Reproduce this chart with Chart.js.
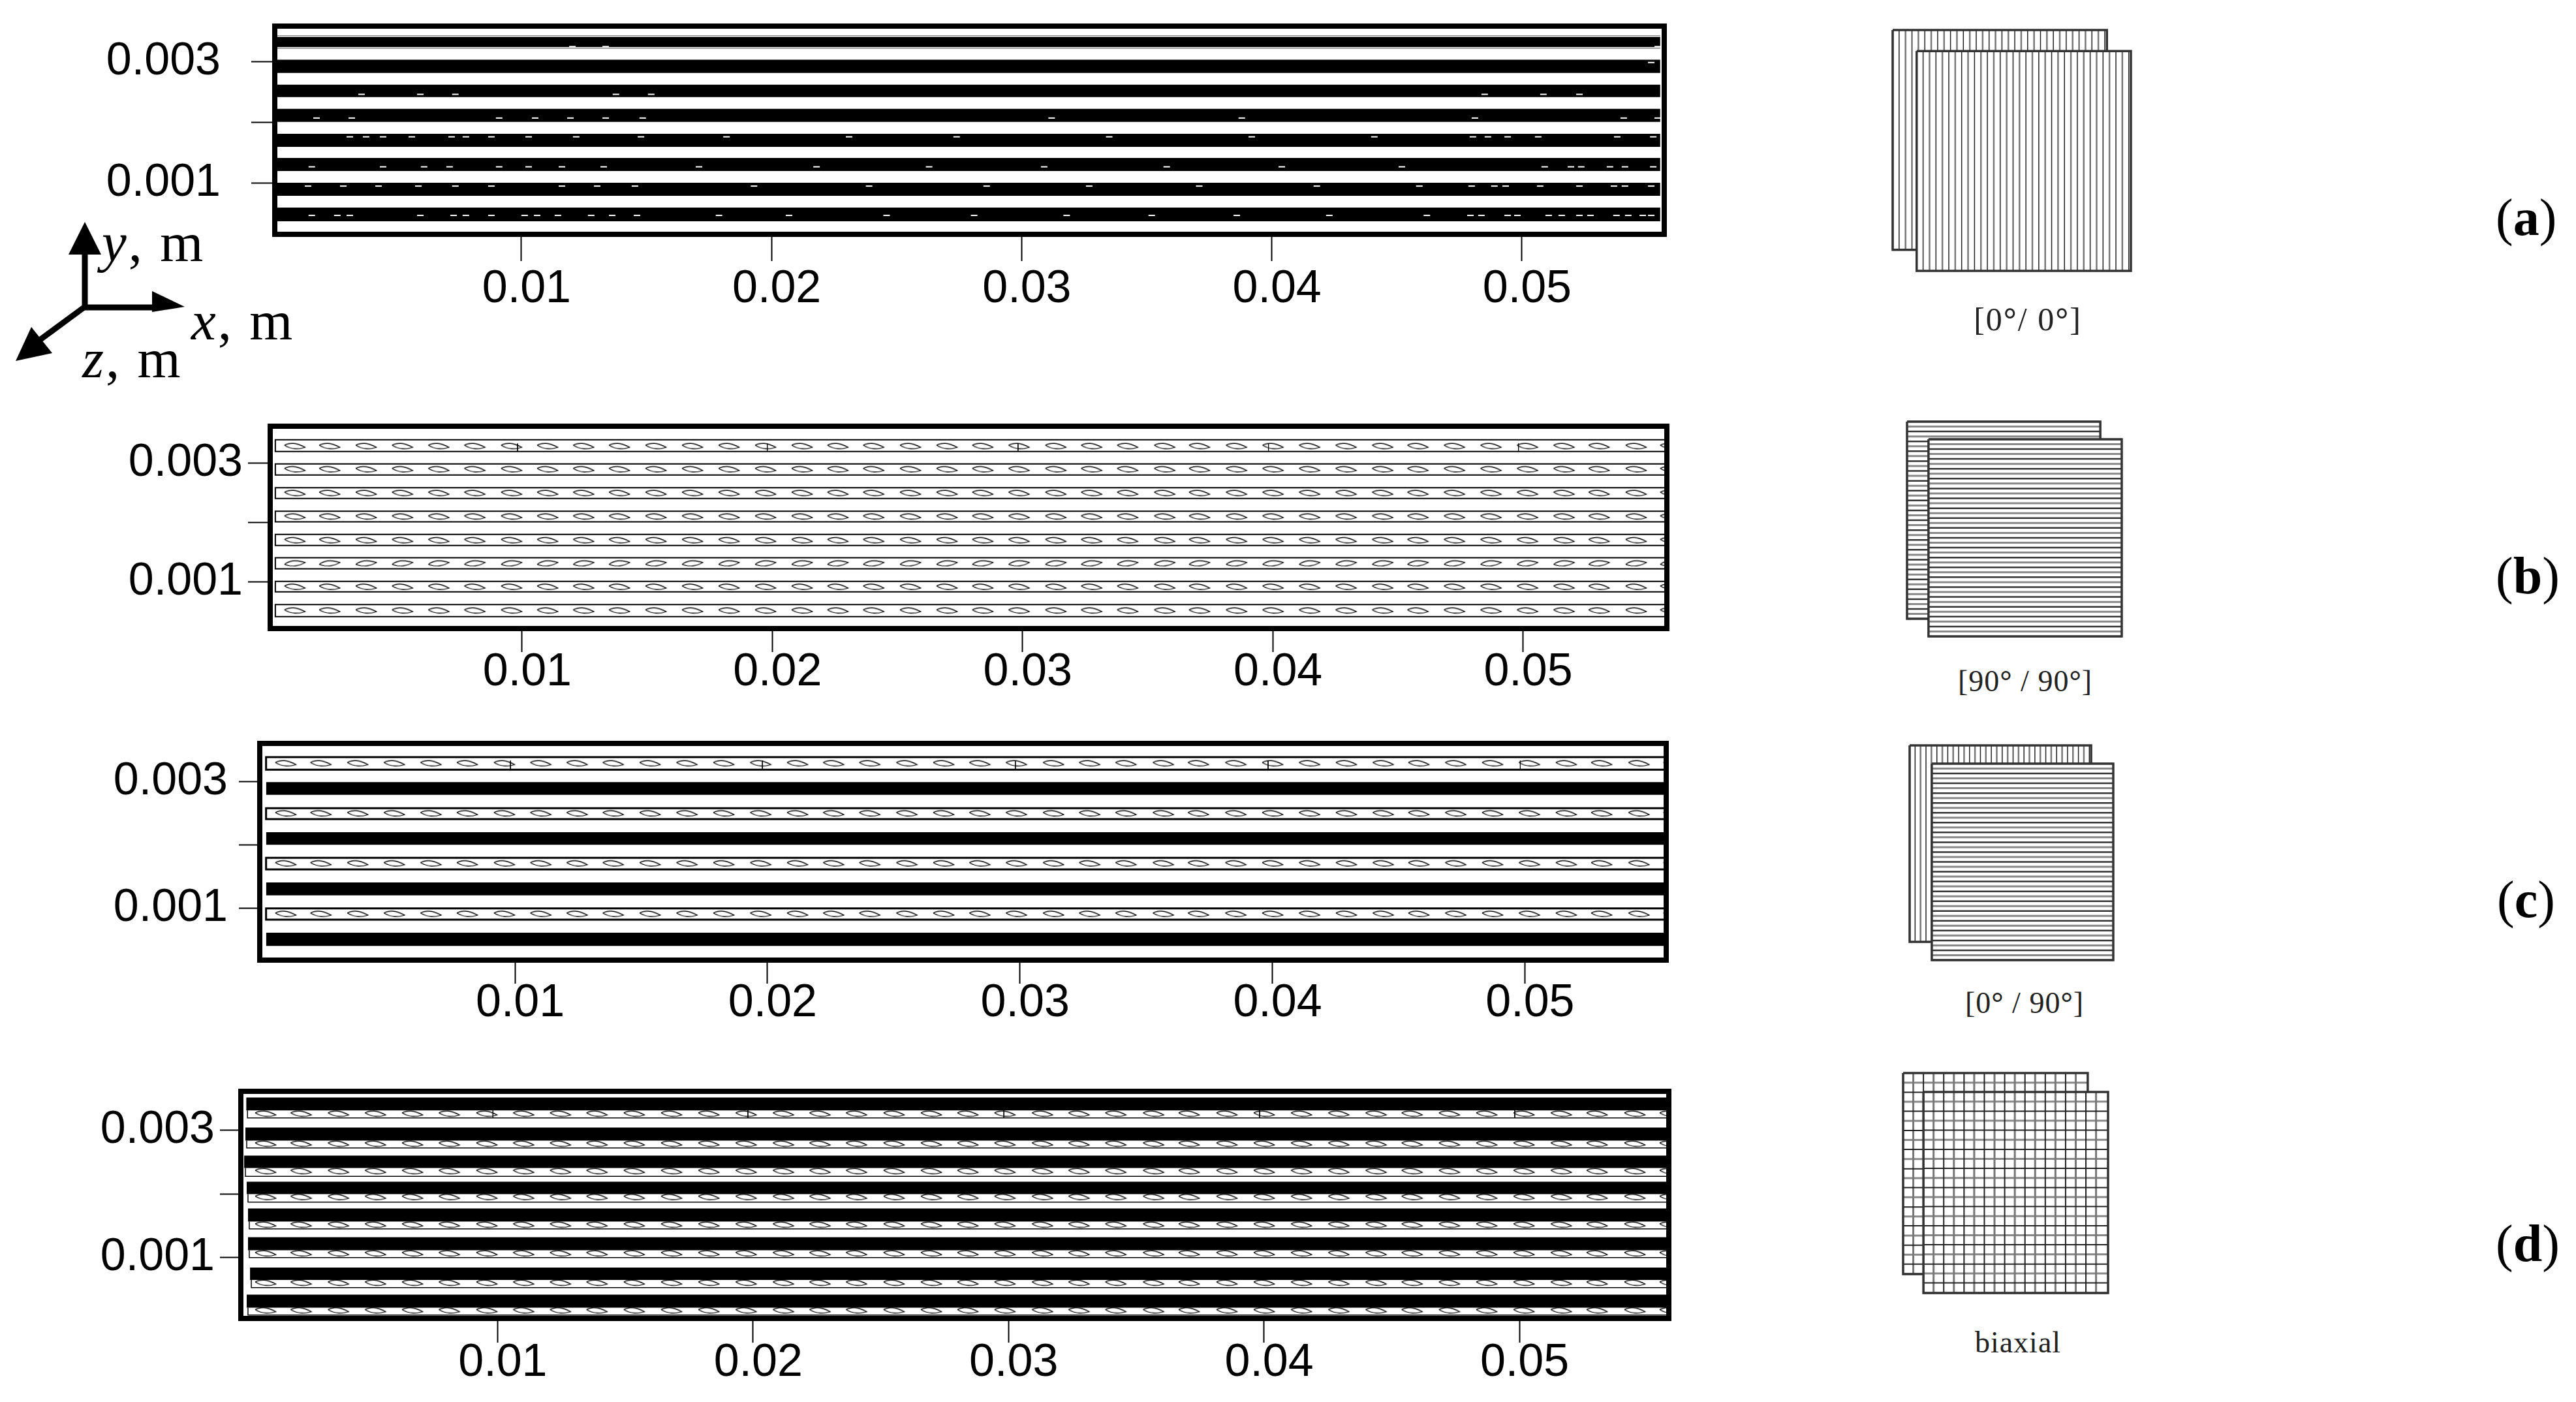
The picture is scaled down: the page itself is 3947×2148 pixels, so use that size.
<!DOCTYPE html>
<html>
<head>
<meta charset="utf-8">
<script src="https://cdn.jsdelivr.net/npm/chart.js@4/dist/chart.umd.min.js"></script>
<style>
html, body { margin: 0; padding: 0; background: #fff; }
body { position: relative; width: 3947px; height: 2148px; overflow: hidden; }
canvas { position: absolute; }
.t { position: absolute; font-family: "Liberation Serif", serif; line-height: 1; white-space: pre; color: #000; }
.axisname { font-size: 85px; letter-spacing: 3px; }
.letter { font-size: 80px; }
.sub { font-size: 50px; color: #222; transform: translateX(-50%); letter-spacing: 2px; }
.sub.small { font-size: 46px; letter-spacing: 1px; }
</style>
</head>
<body>

<svg style="position:absolute;left:0;top:0" width="320" height="600">
  <line x1="130" y1="472" x2="130" y2="385" stroke="#000" stroke-width="9"/>
  <polygon points="130,340 105,390 155,390" fill="#000"/>
  <line x1="126" y1="471" x2="238" y2="471" stroke="#000" stroke-width="9"/>
  <polygon points="283,470 233,446 233,478" fill="#000"/>
  <line x1="130" y1="470" x2="58" y2="523" stroke="#000" stroke-width="9"/>
  <polygon points="24,553 48,501 80,541" fill="#000"/>
</svg>

<div class="t axisname" style="left:156px;top:329px"><i>y</i>, m</div>
<div class="t axisname" style="left:293px;top:449px"><i>x</i>, m</div>
<div class="t axisname" style="left:126px;top:507px"><i>z</i>, m</div>

<div class="t letter" style="left:3824px;top:293px">(<b>a</b>)</div>
<div class="t letter" style="left:3824px;top:842px">(<b>b</b>)</div>
<div class="t letter" style="left:3826px;top:1338px">(<b>c</b>)</div>
<div class="t letter" style="left:3824px;top:1865px">(<b>d</b>)</div>

<div class="t sub" style="left:3107px;top:464px">[0<b>°</b>/ 0<b>°</b>]</div>
<div class="t sub small" style="left:3103px;top:1021px">[90<b>°</b> / 90<b>°</b>]</div>
<div class="t sub small" style="left:3102px;top:1514px">[0<b>°</b> / 90<b>°</b>]</div>
<div class="t sub small" style="left:3092px;top:2034px">biaxial</div>

<script>
// ticks, same on every panel
const xTicks = [0.01, 0.02, 0.03, 0.04, 0.05];
const yTicks = [0.001, 0.002, 0.003];
const yLabelled = [0.001, 0.003];

// tow lens positions along x (the others line up with it)
const lensX = [0.00092, 0.00231, 0.00377, 0.00522, 0.00667, 0.00811, 0.00958, 0.01102, 0.01246, 0.01389,
  0.01535, 0.01681, 0.01827, 0.01973, 0.02119, 0.02262, 0.02405, 0.02552, 0.02698, 0.02841,
  0.02986, 0.03133, 0.03276, 0.03420, 0.03568, 0.03707, 0.03855, 0.04001, 0.04147, 0.04293,
  0.04439, 0.04580, 0.04726, 0.04872, 0.05018, 0.05164, 0.05304, 0.05452, 0.05590];
// little vertical marks in the first strip
const innerTickX = [0.00982, 0.01980, 0.02982, 0.03983, 0.04982];

// panel a, solid bands
const aBandTop = [0.003434, 0.003035, 0.002623, 0.002224, 0.001814, 0.001415, 0.001005, 0.000596];
const aBandBottom = [0.003220, 0.002817, 0.002418, 0.002008, 0.001598, 0.001199, 0.000790, 0.000369];
const aBandStart = 0.00022;
const aBandEnd = 0.05553;
const aOutlineY = [0.003420, 0.003237];
// white flecks inside the bands of panel a
const aFleckY = [0.003252, 0.002989, 0.002464, 0.002073, 0.001763, 0.001268, 0.000950, 0.000466];
const aFleckX = [
  [0.01204, 0.01337, 0.05543],
  [0.05517],
  [0.00361, 0.00596, 0.00736, 0.01378, 0.01519, 0.04851, 0.05086, 0.0523],
  [0.00181, 0.00322, 0.00911, 0.01055, 0.01196, 0.01337, 0.01485, 0.0312, 0.0388, 0.04812, 0.05407, 0.05543],
  [0.00314, 0.00379, 0.00447, 0.00562, 0.00721, 0.00778, 0.0088, 0.01029, 0.01219, 0.01478, 0.0182, 0.0231, 0.0274, 0.0335, 0.0392, 0.0441, 0.04804, 0.04864, 0.04943, 0.05065, 0.05381, 0.05525],
  [0.00162, 0.00447, 0.00611, 0.00713, 0.00911, 0.01029, 0.01162, 0.01329, 0.0171, 0.0218, 0.0263, 0.0309, 0.0358, 0.0404, 0.0452, 0.05091, 0.05196, 0.05237, 0.05352, 0.05412, 0.05525],
  [0.00147, 0.00288, 0.00429, 0.00588, 0.00736, 0.0088, 0.01162, 0.01303, 0.01454, 0.0193, 0.0239, 0.0286, 0.0327, 0.0371, 0.0418, 0.0459, 0.04799, 0.0489, 0.04935, 0.05073, 0.0523, 0.05368, 0.05412, 0.05517],
  [0.00162, 0.00264, 0.00314, 0.00596, 0.00729, 0.00778, 0.0088, 0.01013, 0.01063, 0.01146, 0.01279, 0.01363, 0.01462, 0.0179, 0.0207, 0.0246, 0.0281, 0.0318, 0.0352, 0.0386, 0.0423, 0.0462, 0.04794, 0.04838, 0.04943, 0.04982, 0.05107, 0.05159, 0.0523, 0.05274, 0.05378, 0.05425, 0.05483, 0.05517]
];

// panel b, outlined strips
const bStripTop = [0.003393, 0.002986, 0.002585, 0.002189, 0.001797, 0.001404, 0.001004, 0.000615];
const bStripBottom = [0.003195, 0.002799, 0.002402, 0.002009, 0.001610, 0.001217, 0.000828, 0.000410];
const bLensY = [0.003289, 0.002898, 0.002497, 0.002101, 0.001701, 0.001313, 0.000916, 0.000516];
const bTilt = [4, 4, 4, 3, 4, -7, 4, 3];
const bStart = 0.00014;

// panel c, strips and bands take turns
const cStripTop = [0.003384, 0.002578, 0.001796, 0.001000];
const cStripBottom = [0.003185, 0.002406, 0.001614, 0.000822];
const cLensY = [0.003288, 0.002499, 0.001710, 0.000915];
const cBandTop = [0.002990, 0.002201, 0.001408, 0.000616];
const cBandBottom = [0.002790, 0.002002, 0.001206, 0.000407];
const cStart = 0.00014;

// panel d, each band has its strip hanging under it
const dBandTop = [0.003516, 0.003044, 0.002603, 0.002193, 0.001772, 0.001321, 0.000843, 0.000418];
const dBandBottom = [0.003314, 0.002839, 0.002408, 0.001998, 0.001567, 0.001116, 0.000648, 0.000213];
const dStripBottom = [0.003195, 0.002723, 0.002278, 0.001872, 0.001451, 0.001000, 0.000528, 0.000097];
const dLensY = [0.003263, 0.002791, 0.002360, 0.001954, 0.001519, 0.001068, 0.000606, 0.000172];
const dStart = [0.00016, 0.00013, 0.00008, 0.00018, 0.00023, 0.00023, 0.00031, 0.00018];

// fibre positions on the little fabric sheets, percent of the sheet
const warpPos = [0, 3, 6, 9, 12, 15, 18, 21, 24, 27, 30, 33, 36, 39, 42, 45, 48, 51, 54, 57, 60, 63, 66, 69, 72, 75, 78, 81, 84, 87, 90, 93, 96, 99];
const weftPos = [0, 2.5, 5, 7.5, 10, 12.5, 15, 17.5, 20, 22.5, 25, 27.5, 30, 32.5, 35, 37.5, 40, 42.5, 45, 47.5, 50, 52.5, 55, 57.5, 60, 62.5, 65, 67.5, 70, 72.5, 75, 77.5, 80, 82.5, 85, 87.5, 90, 92.5, 95, 97.5, 100];
const gridXPos = [0, 5.5, 11, 16.5, 22, 27.5, 33, 38.5, 44, 49.5, 55, 60.5, 66, 71.5, 77, 82.5, 88, 93.5, 100];
const gridYPos = [0, 4.8, 9.6, 14.3, 19, 23.8, 28.6, 33.3, 38, 42.8, 47.6, 52.3, 57, 61.8, 66.6, 71.3, 76, 80.8, 85.6, 90.3, 95, 100];

function makeLens(w, h) {
  const c = document.createElement('canvas');
  c.width = w; c.height = h;
  const g = c.getContext('2d');
  const m = h / 2;
  g.strokeStyle = '#000';
  g.lineWidth = 1.3;
  g.beginPath();
  g.moveTo(1, m);
  g.quadraticCurveTo(w * 0.4, m - 8, w - 1, m + 1);
  g.quadraticCurveTo(w * 0.5, m + 8, 1, m);
  g.stroke();
  return c;
}
const lensImg = makeLens(34, 14);

function band(top, bottom, x0, x1) {
  return { data: [{ x: x0, y: top }, { x: x1, y: top }], showLine: true, pointRadius: 0, borderWidth: 0,
    borderColor: 'rgba(0,0,0,0)', backgroundColor: '#000', fill: { value: bottom }, clip: 0 };
}
function strip(top, bottom, x0, x1, w) {
  return { data: [{ x: x1, y: top }, { x: x0, y: top }, { x: x0, y: bottom }, { x: x1, y: bottom }],
    showLine: true, pointRadius: 0, borderWidth: w, borderColor: '#000', fill: false, clip: 0 };
}
function lensRow(y, tilt) {
  return { data: lensX.map(x => ({ x: x, y: y })), showLine: false, pointStyle: lensImg, pointRadius: 16,
    pointRotation: tilt, clip: 0 };
}
function innerMarks(y0, y1) {
  return innerTickX.map(x => ({ data: [{ x: x, y: y0 }, { x: x, y: y1 }], showLine: true, pointRadius: 0,
    borderWidth: 1, borderColor: '#000', clip: 0 }));
}

const frame = {
  id: 'frame',
  afterDatasetsDraw(chart) {
    const a = chart.chartArea, c = chart.ctx;
    c.save();
    c.lineWidth = 8;
    c.strokeStyle = '#000';
    c.strokeRect(a.left, a.top, a.right - a.left, a.bottom - a.top);
    c.restore();
  }
};

function panel(id, box, range, axis, datasets) {
  const pad = 10, axisH = 130;
  const cv = document.createElement('canvas');
  cv.id = id;
  const W = box.right + pad, H = box.bottom - box.top + pad + axisH;
  cv.width = W; cv.height = H;
  cv.style.left = '0px';
  cv.style.top = (box.top - pad) + 'px';
  cv.style.width = W + 'px';
  cv.style.height = H + 'px';
  document.body.appendChild(cv);
  new Chart(cv, {
    type: 'scatter',
    data: { datasets: datasets },
    plugins: [frame],
    options: {
      responsive: false,
      animation: false,
      devicePixelRatio: 1,
      events: [],
      layout: { autoPadding: false, padding: { top: pad, right: pad, left: 0, bottom: 0 } },
      plugins: { legend: { display: false }, tooltip: { enabled: false } },
      scales: {
        x: {
          type: 'linear', min: range.x0, max: range.x1,
          border: { display: false },
          grid: { drawOnChartArea: false, tickLength: axis.xTick, tickColor: '#000', tickWidth: 2 },
          ticks: { color: '#000', padding: axis.xPad, labelOffset: 8, autoSkip: false, maxRotation: 0,
            font: { family: '"Liberation Sans"', size: 70, lineHeight: 0.8 },
            callback: v => String(v) },
          afterBuildTicks: s => { s.ticks = xTicks.map(v => ({ value: v })); },
          afterFit: s => { s.height = axisH; s.paddingLeft = 0; s.paddingRight = 0; }
        },
        y: {
          type: 'linear', min: range.y0, max: range.y1,
          border: { display: false },
          grid: { drawOnChartArea: false, tickLength: axis.yTick, tickColor: '#000', tickWidth: 2 },
          ticks: { color: '#000', padding: axis.yPad, autoSkip: false,
            font: { family: '"Liberation Sans"', size: 70 },
            callback: v => yLabelled.includes(v) ? String(v) : '' },
          afterBuildTicks: s => { s.ticks = yTicks.map(v => ({ value: v })); },
          afterFit: s => { s.width = box.left; s.paddingTop = 0; s.paddingBottom = 0; }
        }
      }
    }
  });
}

// panel a
let ds = [];
aFleckY.forEach((y, i) => {
  ds.push({ data: aFleckX[i].map(x => ({ x: x, y: y })), showLine: false, pointStyle: 'line', pointRadius: 5,
    pointBorderColor: '#fff', pointBorderWidth: 2, clip: 0 });
});
aOutlineY.forEach(y => {
  ds.push({ data: [{ x: aBandStart, y: y }, { x: aBandEnd, y: y }], showLine: true, pointRadius: 0,
    borderWidth: 1.5, borderColor: '#fff', clip: 0 });
});
aBandTop.forEach((t, i) => ds.push(band(t, aBandBottom[i], aBandStart, aBandEnd)));
panel('panelA', { left: 421, right: 2550, top: 40, bottom: 359 },
  { x0: 0.00014, x1: 0.05569, y0: 0.000154, y1: 0.00359 },
  { xTick: 41, yTick: 36, xPad: 16, yPad: 47 }, ds);

// panel b
ds = [];
ds.push(...innerMarks(bLensY[0] + 0.00004, bStripBottom[0]));
bLensY.forEach((y, i) => ds.push(lensRow(y, bTilt[i])));
bStripTop.forEach((t, i) => ds.push(strip(t, bStripBottom[i], bStart, 0.0559, 2)));
panel('panelB', { left: 414, right: 2554, top: 653, bottom: 963 },
  { x0: -0.000065, x1: 0.05575, y0: 0.00021, y1: 0.003622 },
  { xTick: 36, yTick: 34, xPad: 4, yPad: 8 }, ds);

// panel c
ds = [];
ds.push(...innerMarks(cLensY[0] + 0.00004, cStripBottom[0]));
cLensY.forEach(y => ds.push(lensRow(y, 4)));
cStripTop.forEach((t, i) => ds.push(strip(t, cStripBottom[i], cStart, 0.0559, 3)));
cBandTop.forEach((t, i) => ds.push(band(t, cBandBottom[i], cStart, 0.0559)));
panel('panelC', { left: 398, right: 2553, top: 1139, bottom: 1471 },
  { x0: -0.00011, x1: 0.0556, y0: 0.000184, y1: 0.0036 },
  { xTick: 36, yTick: 32, xPad: 3, yPad: 17 }, ds);

// panel d
ds = [];
ds.push(...innerMarks(dBandBottom[0], dStripBottom[0]));
dLensY.forEach(y => ds.push(lensRow(y, 4)));
dBandTop.forEach((t, i) => ds.push(band(t, dBandBottom[i], dStart[i], 0.0559)));
dStripBottom.forEach((b, i) => {
  ds.push({ data: [{ x: dStart[i] + 0.00005, y: dBandBottom[i] }, { x: dStart[i] + 0.00005, y: b }, { x: 0.0559, y: b }],
    showLine: true, pointRadius: 0, borderWidth: 1.5, borderColor: '#000', clip: 0 });
});
panel('panelD', { left: 369, right: 2557, top: 1672, bottom: 2020 },
  { x0: -0.00005, x1: 0.05585, y0: 0.000044, y1: 0.003613 },
  { xTick: 37, yTick: 32, xPad: 4, yPad: 8 }, ds);

// the little fabric sheets
function fibres(pos, vertical, ox, oy, color, width, pick) {
  const pts = [];
  pos.forEach((p, i) => {
    if (i % 2 !== pick) return;
    if (vertical) pts.push({ x: ox + p, y: oy }, { x: ox + p, y: oy + 100 }, { x: ox + p, y: null });
    else pts.push({ x: ox, y: oy + p }, { x: ox + 100, y: oy + p }, { x: ox, y: null });
  });
  return { data: pts, showLine: true, pointRadius: 0, borderWidth: width, borderColor: color, clip: false };
}
function sheet(kind, ox, oy) {
  const out = [];
  out.push({ data: [{ x: ox, y: oy }, { x: ox + 100, y: oy }, { x: ox + 100, y: oy + 100 }, { x: ox, y: oy + 100 }, { x: ox, y: oy }],
    showLine: true, pointRadius: 0, borderWidth: 3.5, borderColor: '#333', clip: false });
  if (kind === 'warp') {
    out.push(fibres(warpPos, true, ox, oy, '#222', 1.5, 1), fibres(warpPos, true, ox, oy, '#777', 2.5, 0));
  } else if (kind === 'weft') {
    out.push(fibres(weftPos, false, ox, oy, '#333', 2.5, 0), fibres(weftPos, false, ox, oy, '#888', 3, 1));
  } else {
    out.push(fibres(gridXPos, true, ox, oy, '#222', 2, 0), fibres(gridYPos, false, ox, oy, '#222', 2, 0));
    out.push(fibres(gridXPos, true, ox, oy, '#777', 3, 1), fibres(gridYPos, false, ox, oy, '#888', 3, 1));
  }
  out.push({ data: [{ x: ox, y: oy }, { x: ox + 100, y: oy }], showLine: true, pointRadius: 0, borderWidth: 0,
    borderColor: 'rgba(0,0,0,0)', backgroundColor: '#fff', fill: { value: oy + 100 }, clip: false });
  return out;
}
function thumb(left, top, w, h, ox, oy, back, front) {
  const pad = 3;
  const W = Math.round(w * (1 + ox / 100)) + 2 * pad, H = Math.round(h * (1 + oy / 100)) + 2 * pad;
  const cv = document.createElement('canvas');
  cv.width = W; cv.height = H;
  cv.style.left = (left - pad) + 'px';
  cv.style.top = (top - pad) + 'px';
  cv.style.width = W + 'px';
  cv.style.height = H + 'px';
  document.body.appendChild(cv);
  new Chart(cv, {
    type: 'scatter',
    data: { datasets: sheet(front, ox, oy).concat(sheet(back, 0, 0)) },
    options: {
      responsive: false, animation: false, devicePixelRatio: 1, events: [],
      layout: { autoPadding: false, padding: pad },
      plugins: { legend: { display: false }, tooltip: { enabled: false } },
      scales: {
        x: { type: 'linear', display: false, min: 0, max: 100 + ox },
        y: { type: 'linear', display: false, reverse: true, min: 0, max: 100 + oy }
      }
    }
  });
}
thumb(2900, 46, 328, 337, 11.2, 9.6, 'warp', 'warp');
thumb(2922, 646, 296, 302, 11.1, 8.9, 'weft', 'weft');
thumb(2926, 1142, 278, 301, 12.2, 9.3, 'warp', 'weft');
thumb(2916, 1644, 283, 308, 11, 9.4, 'grid', 'grid');
</script>
</body>
</html>
